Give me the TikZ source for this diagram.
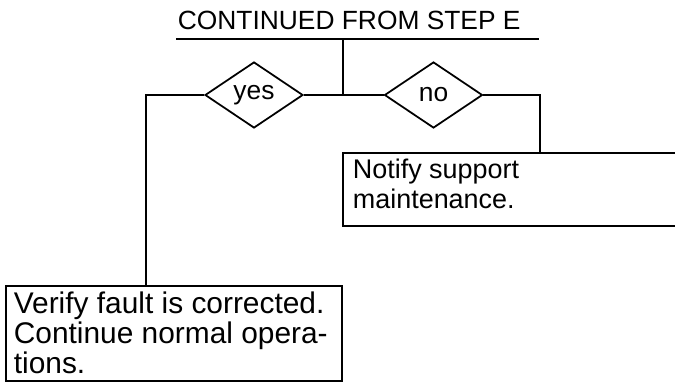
\documentclass[tikz,border=0pt]{standalone}
\usepackage{fontspec}
\setmainfont{Liberation Sans}
\usetikzlibrary{positioning}
\usetikzlibrary{shapes.geometric}

\begin{document}
\begin{tikzpicture}[x=0.03cm,y=-0.03cm,line width=1.5pt,
		decision/.style={draw,diamond,inner sep=0pt,minimum width=2.94cm,minimum height=1.98cm,font=\fontsize{22.5}{25}\selectfont},
		boxtext/.style={anchor=north west,inner sep=0pt,align=left}]
		\useasboundingbox (0,0) rectangle (675,383);
		
		% heading with rule underneath
		\node[anchor=base west,inner sep=0pt,font=\fontsize{22.5}{25}\selectfont] (title) at (177,29) {CONTINUED FROM STEP E};
		\coordinate (ruleL) at (176,39);
		\coordinate (ruleR) at (539,39);
		\coordinate (ruleM) at (343,39);
		\draw (ruleL) -- (ruleR);
		
		% the two branches
		\node[decision] (yes) at (254,95) {yes};
		\node[decision] (no) at (433.5,95) {no};
		\coordinate (split) at (343,95);
		\draw (ruleM) -- (split);
		\draw (yes.east) -- (no.west);
		
		% result boxes
		\draw (343,153) rectangle (690,226);
		\coordinate (notifytop) at (540,153);
		\node[boxtext,font=\fontsize{23}{25.5}\selectfont] (notify) at (352,158) {Notify support\\maintenance.};
		
		\draw (6,286) rectangle (342,381);
		\coordinate (verifytop) at (146,286);
		\node[boxtext,font=\fontsize{25.5}{25.5}\selectfont] (verify) at (13,291) {Verify fault is corrected.\\Continue normal opera-\\tions.};
		
		% connectors down to the boxes
		\draw (yes.west) -| (verifytop);
		\draw (no.east) -| (notifytop);
	\end{tikzpicture}
\end{document}
